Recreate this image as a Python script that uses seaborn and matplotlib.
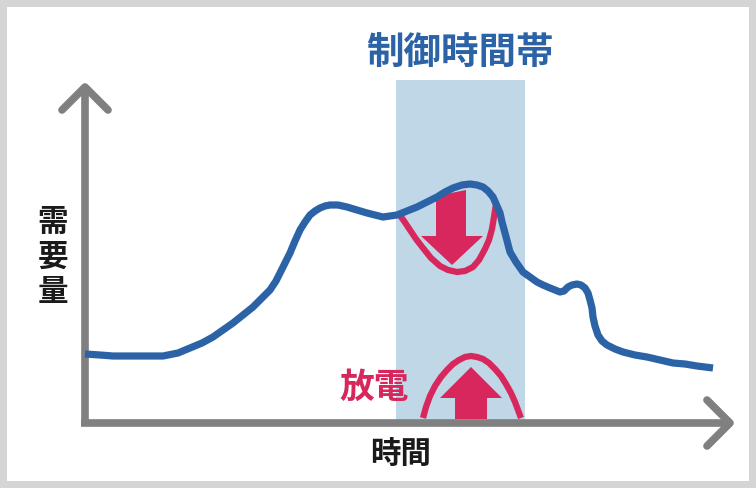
import matplotlib.pyplot as plt
import seaborn as sns
import pandas as pd
from matplotlib.patches import Rectangle, Polygon

# demand curve (pixel space, y grows downward)
demand_x = [85, 100, 113, 135, 163, 178, 190, 202, 213, 223, 233, 243, 253, 262, 270,
            276, 280, 285, 290, 295, 300, 305, 310, 315, 320, 325, 330, 338, 347, 357,
            367, 375, 383, 390, 397, 407, 417, 427, 437, 445, 453, 462, 470, 477, 483,
            488, 493, 497, 500, 502, 505, 510, 516, 523, 530, 537, 543, 550, 555, 560,
            564, 568, 572, 577, 581, 585, 588, 590, 592, 593, 595, 598, 602, 607, 615,
            623, 635, 647, 660, 673, 685, 697, 705, 713]
demand_y = [354, 355, 356, 356, 356, 353, 348, 343, 337, 330, 323, 315, 307, 298, 290,
            281, 273, 263, 253, 241, 230, 222, 215, 211, 208, 206, 205, 205, 207, 210,
            213, 215, 217, 216, 215, 211, 207, 202, 197, 192, 188, 185, 184, 185, 187,
            191, 197, 206, 213, 222, 233, 252, 262, 272, 277, 282, 285, 288, 290, 292,
            291, 287, 285, 284, 285, 288, 293, 300, 308, 317, 326, 335, 341, 345, 349,
            352, 355, 357, 360, 363, 364, 366, 367, 368]

# shaved peak (upper red loop) and discharge arch (lower red loop)
shave_x = [399, 404, 410, 416, 423, 431, 440, 448, 457, 465, 473, 479, 485, 489, 492, 494, 496]
shave_y = [214, 221, 230, 239, 248, 258, 266, 270, 272, 271, 267, 260, 249, 240, 229, 217, 204]
arch_x = [423, 426, 430, 435, 441, 447, 453, 459, 465, 471, 477, 483, 489, 495, 501, 506,
          511, 515, 518, 521]
arch_y = [418, 407, 396, 386, 377, 370, 364, 360, 357, 356, 357, 359, 363, 369, 376, 384,
          393, 402, 410, 418]

band_x0, band_x1, band_top, band_bottom = 396, 525, 80, 420
down_arrow = [(436, 196), (466, 190), (466, 236), (483, 236), (452, 265), (421, 236), (436, 236)]
up_arrow = [(471, 367), (502, 398), (487, 398), (487, 419), (455, 419), (455, 398), (440, 398)]

blue = "#2b63a6"
red = "#d7275c"
gray = "#808080"

sns.set_style("white")
plt.rcParams["font.family"] = ["Noto Sans CJK JP", "DejaVu Sans"]

fig = plt.figure(figsize=(7.56, 4.88), dpi=100, facecolor="#d5d5d5")
ax = fig.add_axes([0, 0, 1, 1])
ax.set_xlim(0, 756)
ax.set_ylim(488, 0)
ax.axis("off")

ax.add_patch(Rectangle((7, 7), 742, 474, facecolor="white", edgecolor="none", zorder=0))
ax.add_patch(Rectangle((band_x0, band_top), band_x1 - band_x0, band_bottom - band_top,
                       facecolor="#c0d7e7", edgecolor="none", zorder=1))

# axes with chevron heads
ax.plot([85, 85], [88, 425], color=gray, lw=5.5, solid_capstyle="butt", zorder=2)
ax.plot([62, 85, 108], [110, 87, 110], color=gray, lw=5.5, zorder=2)
ax.plot([81, 728], [423, 423], color=gray, lw=5.5, solid_capstyle="butt", zorder=2)
ax.plot([707, 730, 707], [400, 423, 446], color=gray, lw=5.5, zorder=2)

df_shave = pd.DataFrame({"x": shave_x, "y": shave_y})
df_arch = pd.DataFrame({"x": arch_x, "y": arch_y})
df_demand = pd.DataFrame({"x": demand_x, "y": demand_y})

sns.lineplot(data=df_shave, x="x", y="y", sort=False, color=red, lw=4.5, ax=ax,
             zorder=3, solid_capstyle="butt", solid_joinstyle="round")
sns.lineplot(data=df_arch, x="x", y="y", sort=False, color=red, lw=4.5, ax=ax,
             zorder=3, solid_capstyle="butt", solid_joinstyle="round")
ax.add_patch(Polygon(down_arrow, closed=True, facecolor=red, edgecolor="none", zorder=3))
ax.add_patch(Polygon(up_arrow, closed=True, facecolor=red, edgecolor="none", zorder=3))
sns.lineplot(data=df_demand, x="x", y="y", sort=False, color=blue, lw=5.2, ax=ax,
             zorder=4, solid_capstyle="butt", solid_joinstyle="round")

ax.text(460, 53, "制御時間帯", color=blue, fontsize=27, fontweight="bold",
        ha="center", va="center")
ax.text(374, 387, "放電", color=red, fontsize=25, fontweight="bold",
        ha="center", va="center")
ax.text(401, 455, "時間", color="#1a1a1a", fontsize=22, fontweight="bold",
        ha="center", va="center")
for i, ch in enumerate("需要量"):
    ax.text(53, 222 + i * 35, ch, color="#1a1a1a", fontsize=22, fontweight="bold",
            ha="center", va="center")

ax.set_xlabel("")
ax.set_ylabel("")
fig.savefig("out.png", dpi=100, facecolor=fig.get_facecolor())
